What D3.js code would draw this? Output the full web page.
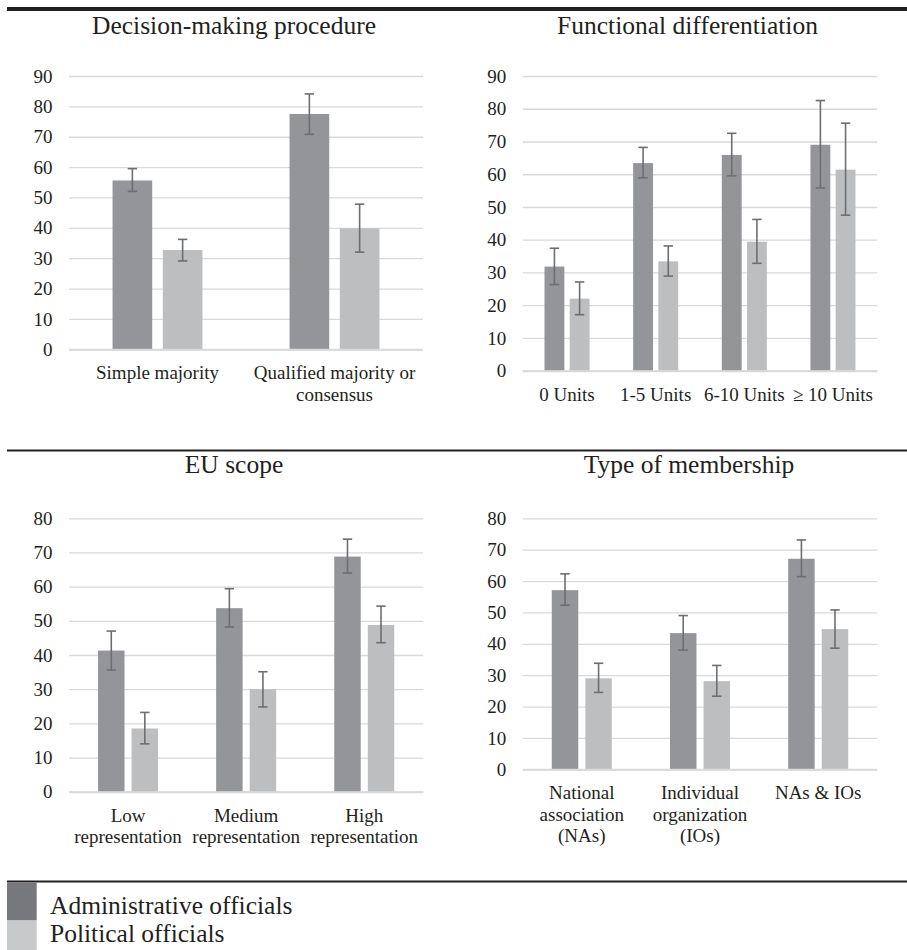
<!DOCTYPE html>
<html>
<head>
<meta charset="utf-8">
<script src="https://cdn.jsdelivr.net/npm/d3@7"></script>
<style>
  html, body { margin: 0; padding: 0; background: #ffffff; }
  svg { display: block; }
  text { font-family: "Liberation Serif", "Times New Roman", serif; fill: #231f20; }
</style>
</head>
<body>
<svg id="chart" width="907" height="950"></svg>
<script>
// ---- Data -------------------------------------------------------------
const seriesNames = ["Administrative officials", "Political officials"];

const ticksTop = [0, 10, 20, 30, 40, 50, 60, 70, 80, 90];
const ticksBottom = [0, 10, 20, 30, 40, 50, 60, 70, 80];

// Decision-making procedure
const decisionCategories = ["Simple majority", "Qualified majority or\nconsensus"];
const decisionAdmin = [55.6, 77.5];
const decisionAdminCI = [[52.0, 59.5], [70.8, 84.1]];
const decisionPolitical = [32.7, 39.8];
const decisionPoliticalCI = [[29.1, 36.2], [32.0, 47.8]];

// Functional differentiation
const functionalCategories = ["0 Units", "1-5 Units", "6-10 Units", "\u2265 10 Units"];
const functionalAdmin = [31.8, 63.4, 65.9, 69.0];
const functionalAdminCI = [[26.3, 37.4], [58.9, 68.2], [59.5, 72.5], [55.8, 82.5]];
const functionalPolitical = [22.0, 33.4, 39.4, 61.4];
const functionalPoliticalCI = [[17.1, 27.1], [28.9, 38.1], [32.8, 46.2], [47.5, 75.6]];

// EU scope
const scopeCategories = ["Low\nrepresentation", "Medium\nrepresentation", "High\nrepresentation"];
const scopeAdmin = [41.3, 53.7, 68.8];
const scopeAdminCI = [[35.6, 47.0], [48.2, 59.4], [64.0, 73.9]];
const scopePolitical = [18.5, 30.0, 48.8];
const scopePoliticalCI = [[14.0, 23.2], [24.8, 35.1], [43.6, 54.3]];

// Type of membership
const membershipCategories = ["National\nassociation\n(NAs)", "Individual\norganization\n(IOs)", "NAs & IOs"];
const membershipAdmin = [57.1, 43.4, 67.1];
const membershipAdminCI = [[52.3, 62.3], [38.0, 49.0], [61.4, 73.1]];
const membershipPolitical = [29.0, 28.1, 44.7];
const membershipPoliticalCI = [[24.5, 33.8], [23.3, 33.1], [38.6, 50.8]];

// ---- Styling ----------------------------------------------------------
const colors = { admin: "#939598", political: "#bcbec0" };
const legendColors = ["#77787b", "#c8c9cb"];
const gridColor = "#d9d9d9";
const errColor = "#6d6e71";

// ---- Panel layout -----------------------------------------------------
const panels = [
  {
    title: "Decision-making procedure", titleX: 234, titleY: 34,
    categories: decisionCategories, ticks: ticksTop,
    admin: decisionAdmin, adminCI: decisionAdminCI,
    political: decisionPolitical, politicalCI: decisionPoliticalCI,
    left: 69, right: 423, top: 76, bottom: 349.3
  },
  {
    title: "Functional differentiation", titleX: 687.5, titleY: 34,
    categories: functionalCategories, ticks: ticksTop,
    admin: functionalAdmin, adminCI: functionalAdminCI,
    political: functionalPolitical, politicalCI: functionalPoliticalCI,
    left: 522.7, right: 877.3, top: 76, bottom: 370.7
  },
  {
    title: "EU scope", titleX: 234, titleY: 473,
    categories: scopeCategories, ticks: ticksBottom,
    admin: scopeAdmin, adminCI: scopeAdminCI,
    political: scopePolitical, politicalCI: scopePoliticalCI,
    left: 69, right: 423.3, top: 518.3, bottom: 791.7
  },
  {
    title: "Type of membership", titleX: 689, titleY: 473,
    categories: membershipCategories, ticks: ticksBottom,
    admin: membershipAdmin, adminCI: membershipAdminCI,
    political: membershipPolitical, politicalCI: membershipPoliticalCI,
    left: 522.7, right: 877.3, top: 518.3, bottom: 769.3
  }
];

const svg = d3.select("#chart");

// Section rules
svg.append("rect").attr("x", 7).attr("y", 7).attr("width", 900).attr("height", 4).attr("fill", "#231f20");
svg.append("rect").attr("x", 7).attr("y", 449.5).attr("width", 900).attr("height", 2).attr("fill", "#231f20");
svg.append("rect").attr("x", 7).attr("y", 880.5).attr("width", 900).attr("height", 2).attr("fill", "#231f20");

panels.forEach(p => {
  const g = svg.append("g");
  const yMax = p.ticks[p.ticks.length - 1];

  const y = d3.scaleLinear().domain([0, yMax]).range([p.bottom, p.top]);
  const x0 = d3.scaleBand().domain(p.categories).range([p.left, p.right]).padding(0);
  const band = x0.bandwidth();
  const groupW = band * 0.508;
  const x1 = d3.scaleBand().domain(["admin", "political"])
    .range([-groupW / 2, groupW / 2]).paddingInner(0.211).paddingOuter(0);

  // Title
  g.append("text")
    .attr("x", p.titleX).attr("y", p.titleY)
    .attr("text-anchor", "middle")
    .attr("font-size", 25.5)
    .text(p.title);

  // Y axis with gridlines
  const yAxis = d3.axisLeft(y)
    .tickValues(p.ticks)
    .tickSize(-(p.right - p.left))
    .tickPadding(16.5)
    .tickFormat(d3.format("d"));
  const ya = g.append("g")
    .attr("transform", `translate(${p.left},0)`)
    .call(yAxis);
  ya.attr("font-family", null).attr("font-size", null);
  ya.select(".domain").remove();
  ya.selectAll(".tick line").attr("stroke", gridColor).attr("stroke-width", 1.3);
  ya.selectAll(".tick text")
    .attr("font-size", 19)
    .attr("fill", "#231f20");

  // Bars
  const rows = p.categories.map((c, i) => ({
    cat: c,
    items: [
      { key: "admin", value: p.admin[i], ci: p.adminCI[i] },
      { key: "political", value: p.political[i], ci: p.politicalCI[i] }
    ]
  }));

  const groups = g.selectAll(".grp").data(rows).enter().append("g")
    .attr("transform", d => `translate(${x0(d.cat) + band / 2},0)`);

  groups.selectAll("rect").data(d => d.items).enter().append("rect")
    .attr("x", d => x1(d.key))
    .attr("width", x1.bandwidth())
    .attr("y", d => y(d.value))
    .attr("height", d => y(0) - y(d.value))
    .attr("fill", d => colors[d.key]);

  // Baseline
  g.append("line")
    .attr("x1", p.left).attr("x2", p.right)
    .attr("y1", y(0) + 0.5).attr("y2", y(0) + 0.5)
    .attr("stroke", gridColor).attr("stroke-width", 2);

  // Error bars
  const capHalf = 4.7;
  const eb = groups.selectAll(".eb").data(d => d.items).enter().append("g")
    .attr("stroke", errColor).attr("stroke-width", 1.6);
  eb.append("line")
    .attr("x1", d => x1(d.key) + x1.bandwidth() / 2)
    .attr("x2", d => x1(d.key) + x1.bandwidth() / 2)
    .attr("y1", d => y(d.ci[0])).attr("y2", d => y(d.ci[1]));
  [0, 1].forEach(k => {
    eb.append("line")
      .attr("x1", d => x1(d.key) + x1.bandwidth() / 2 - capHalf)
      .attr("x2", d => x1(d.key) + x1.bandwidth() / 2 + capHalf)
      .attr("y1", d => y(d.ci[k])).attr("y2", d => y(d.ci[k]));
  });

  // Category labels (multi-line)
  const labels = g.selectAll(".xl").data(p.categories).enter().append("text")
    .attr("text-anchor", "middle")
    .attr("font-size", 19)
    .attr("x", d => x0(d) + band / 2)
    .attr("y", y(0) + 30);
  labels.each(function (d) {
    const t = d3.select(this);
    d.split("\n").forEach((line, i) => {
      t.append("tspan")
        .attr("x", x0(d) + band / 2)
        .attr("dy", i === 0 ? 0 : 21.5)
        .text(line);
    });
  });
});

// Legend
const legend = svg.append("g");
const legendRows = [
  { name: seriesNames[0], color: legendColors[0], y0: 882.5, y1: 920.5, base: 914 },
  { name: seriesNames[1], color: legendColors[1], y0: 920.5, y1: 950, base: 942 }
];
legendRows.forEach(r => {
  legend.append("rect")
    .attr("x", 7).attr("y", r.y0)
    .attr("width", 29.7).attr("height", r.y1 - r.y0)
    .attr("fill", r.color);
  legend.append("text")
    .attr("x", 50).attr("y", r.base)
    .attr("font-size", 25.5)
    .text(r.name);
});
</script>
</body>
</html>
